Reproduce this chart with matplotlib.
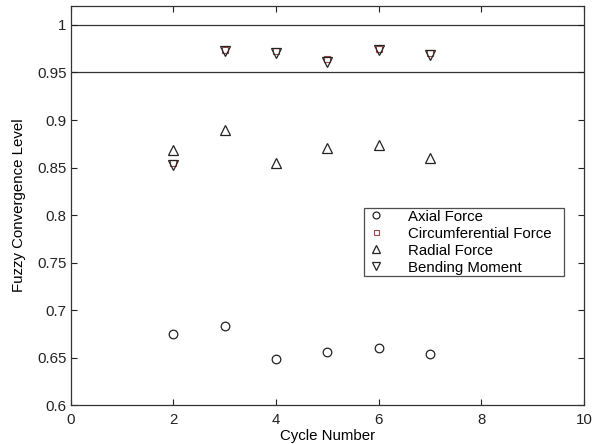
import matplotlib
matplotlib.use("Agg")
import matplotlib.pyplot as plt
from matplotlib.ticker import FuncFormatter

plt.rcParams['font.family'] = ['Liberation Sans', 'DejaVu Sans']

cycles = [2, 3, 4, 5, 6, 7]
axial = [0.675, 0.683, 0.648, 0.656, 0.660, 0.654]
circumferential = [0.855, 0.974, 0.973, 0.964, 0.975, 0.970]
radial = [0.868, 0.890, 0.855, 0.871, 0.874, 0.860]
bending = [0.853, 0.973, 0.971, 0.961, 0.974, 0.968]
thresholds = [1.0, 0.95]

x_ticks = [0, 2, 4, 6, 8, 10]
y_ticks = [0.6, 0.65, 0.7, 0.75, 0.8, 0.85, 0.9, 0.95, 1.0]

FS = 10.8

fig = plt.figure(figsize=(5.97, 4.44), dpi=100)
ax = fig.add_axes([0.1183, 0.0878, 0.8600, 0.8987])

for t in thresholds:
    ax.axhline(t, color='#333333', lw=0.9, zorder=1)

ax.plot(cycles, axial, ls='none', marker='o', ms=6.2, mfc='none', mec='#222222',
        mew=0.9, label='Axial Force', zorder=3)
ax.plot(cycles, circumferential, ls='none', marker='s', ms=4.5, mfc='none', mec='#9a4a4a',
        mew=0.8, label='Circumferential Force', zorder=2)
ax.plot(cycles, radial, ls='none', marker='^', ms=6.5, mfc='none', mec='#222222',
        mew=0.9, label='Radial Force', zorder=3)
ax.plot(cycles, bending, ls='none', marker='v', ms=6.5, mfc='none', mec='#222222',
        mew=0.9, label='Bending Moment', zorder=3)

ax.set_xlim(0, 10)
ax.set_ylim(0.6, 1.02)
ax.set_xticks(x_ticks)
ax.set_yticks(y_ticks)
ax.yaxis.set_major_formatter(FuncFormatter(lambda v, p: ('%.2f' % v).rstrip('0').rstrip('.')))
ax.tick_params(direction='in', length=4, width=0.8, labelsize=FS, top=True, right=True,
               colors='#222222')
ax.tick_params(axis='x', pad=6)
ax.tick_params(axis='y', pad=3)
for s in ax.spines.values():
    s.set_linewidth(0.9)
    s.set_color('#333333')

ax.set_xlabel('Cycle Number', fontsize=FS, labelpad=1)
ax.set_ylabel('Fuzzy Convergence Level', fontsize=FS, labelpad=8)

leg = ax.legend(loc='upper left', bbox_to_anchor=(0.5715, 0.4937, 0.3896, 0.0), mode='expand',
                fontsize=FS, frameon=True, fancybox=False, edgecolor='#222222', borderpad=0.1,
                labelspacing=0.2, handletextpad=1.4, handlelength=1.4, borderaxespad=0,
                markerscale=0.8)
leg.get_frame().set_linewidth(0.9)

fig.savefig('out.png', dpi=100)
